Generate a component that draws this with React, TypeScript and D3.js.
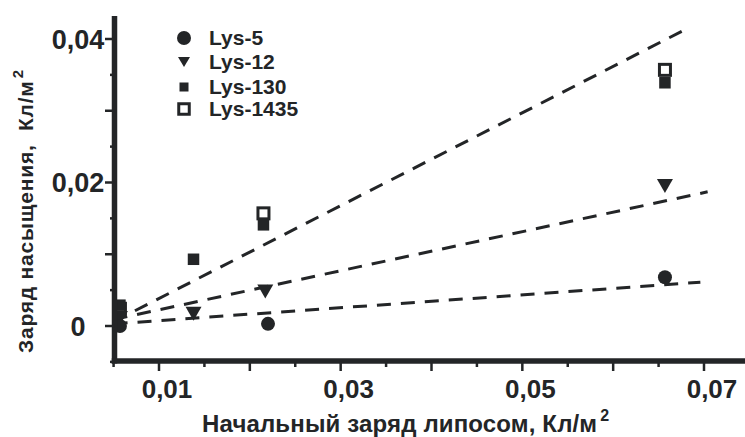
import React from "react";
import * as d3 from "d3";

// Initial liposome charge (C/m²) vs. saturation charge (C/m²)
const lys5X = [0.0057, 0.022, 0.0657];
const lys5Y = [0.0, 0.0003, 0.0068];
const lys12X = [0.0057, 0.0138, 0.0217, 0.0657];
const lys12Y = [0.0011, 0.0017, 0.0048, 0.0195];
const lys130X = [0.0057, 0.0138, 0.0215, 0.0657];
const lys130Y = [0.0029, 0.0093, 0.0141, 0.0339];
const lys1435X = [0.0057, 0.0215, 0.0657];
const lys1435Y = [0.0024, 0.0157, 0.0357];

// Linear fits (start and end points)
const fitSteepX = [0.005, 0.0676];
const fitSteepY = [0.0006, 0.0411];
const fitMidX = [0.005, 0.0704];
const fitMidY = [0.0009, 0.0187];
const fitLowX = [0.005, 0.0696];
const fitLowY = [0.0003, 0.0061];

const legendLabels = ["Lys-5", "Lys-12", "Lys-130", "Lys-1435"];
const xTickLabels = ["0,01", "0,03", "0,05", "0,07"];
const xTickValues = [0.01, 0.03, 0.05, 0.07];
const yTickLabels = ["0", "0,02", "0,04"];
const yTickValues = [0, 0.02, 0.04];

const INK = "#232527";
const FONT = "'Liberation Sans', Arial, Helvetica, sans-serif";

export default function App() {
  const x = d3.scaleLinear().domain([0.01, 0.07]).range([159, 704]);
  const y = d3.scaleLinear().domain([0, 0.04]).range([326, 39]);

  const axisX = 114.5;
  const axisY = 361;

  const line = d3
    .line<[number, number]>()
    .x((d) => x(d[0]))
    .y((d) => y(d[1]));

  const fits = [
    [fitSteepX, fitSteepY],
    [fitMidX, fitMidY],
    [fitLowX, fitLowY],
  ].map(([xs, ys]) => xs.map((v, i) => [v, ys[i]] as [number, number]));

  const xMinor = d3.range(0.005, 0.0751, 0.005);
  const yMinor = d3.range(-0.005, 0.0401, 0.005);
  const isMajor = (v: number) => Math.abs(v / 0.01 - Math.round(v / 0.01)) < 1e-6;

  const circle = (cx: number, cy: number, r: number, key: string) => (
    <circle key={key} cx={cx} cy={cy} r={r} fill={INK} />
  );
  const triangle = (cx: number, cy: number, w: number, h: number, key: string) => (
    <path
      key={key}
      d={`M${cx - w / 2},${cy - h / 2}L${cx + w / 2},${cy - h / 2}L${cx},${cy + h / 2}Z`}
      fill={INK}
    />
  );
  const square = (cx: number, cy: number, s: number, key: string) => (
    <rect key={key} x={cx - s / 2} y={cy - s / 2} width={s} height={s} fill={INK} />
  );
  const openSquare = (cx: number, cy: number, s: number, key: string) => (
    <rect
      key={key}
      x={cx - s / 2 + 1.5}
      y={cy - s / 2 + 1.5}
      width={s - 3}
      height={s - 3}
      fill="#fff"
      stroke={INK}
      strokeWidth={3}
    />
  );

  const legendY = [38, 62, 87, 109];

  return (
    <svg
      width={745}
      height={437}
      style={{ position: "absolute", left: 0, top: 0, background: "#fff" }}
      fontFamily={FONT}
      fontWeight="bold"
    >
      {/* fitted trend lines */}
      {fits.map((pts, i) => (
        <path
          key={`fit${i}`}
          d={line(pts) || ""}
          fill="none"
          stroke={INK}
          strokeWidth={3}
          strokeDasharray="14 10"
        />
      ))}

      {/* data points */}
      {lys1435X.map((v, i) => openSquare(x(v), y(lys1435Y[i]), 14, `o${i}`))}
      {lys130X.map((v, i) => square(x(v), y(lys130Y[i]), 11.5, `s${i}`))}
      {lys12X.map((v, i) => triangle(x(v), y(lys12Y[i]), 16, 14, `t${i}`))}
      {lys5X.map((v, i) => circle(x(v), y(lys5Y[i]), 7, `c${i}`))}

      {/* axes */}
      <line x1={axisX} x2={axisX} y1={16} y2={axisY + 2.5} stroke={INK} strokeWidth={5.5} />
      <line x1={axisX - 2.75} x2={745} y1={axisY} y2={axisY} stroke={INK} strokeWidth={5.5} />

      {yMinor.map((v, i) => (
        <line
          key={`yt${i}`}
          x1={isMajor(v) ? 105 : 110}
          x2={axisX}
          y1={y(v)}
          y2={y(v)}
          stroke={INK}
          strokeWidth={2.5}
        />
      ))}
      {xMinor.map((v, i) => (
        <line
          key={`xt${i}`}
          x1={x(v)}
          x2={x(v)}
          y1={axisY}
          y2={isMajor(v) ? 371 : 367}
          stroke={INK}
          strokeWidth={2.5}
        />
      ))}

      {/* tick labels */}
      {yTickValues.map((v, i) => (
        <text
          key={`yl${i}`}
          x={78}
          y={y(v)}
          dy="0.36em"
          textAnchor="middle"
          fontSize={27}
          fill={INK}
        >
          {yTickLabels[i]}
        </text>
      ))}
      {xTickValues.map((v, i) => (
        <text
          key={`xl${i}`}
          x={x(v) + 8}
          y={398}
          textAnchor="middle"
          fontSize={26}
          fill={INK}
        >
          {xTickLabels[i]}
        </text>
      ))}

      {/* axis titles */}
      <text x={202} y={431.5} fontSize={24} letterSpacing={0.15} fill={INK}>
        Начальный заряд липосом, Кл/м
        <tspan dx={3} dy={-11} fontSize={16}>
          2
        </tspan>
      </text>
      <text
        transform="translate(33,353) rotate(-90)"
        fontSize={21}
        letterSpacing={0.8}
        fill={INK}
        style={{ whiteSpace: "pre" }}
      >
        {"Заряд насыщения,  Кл/м"}
        <tspan dx={2} dy={-10} fontSize={15}>
          2
        </tspan>
      </text>

      {/* legend */}
      {circle(184, legendY[0], 7, "lc")}
      {triangle(184, legendY[1], 12, 10, "lt")}
      {square(184, legendY[2], 9, "ls")}
      {openSquare(184, legendY[3], 13.5, "lo")}
      {legendLabels.map((t, i) => (
        <text key={`lg${i}`} x={209} y={legendY[i] + 7} fontSize={21} fill={INK}>
          {t}
        </text>
      ))}
    </svg>
  );
}
